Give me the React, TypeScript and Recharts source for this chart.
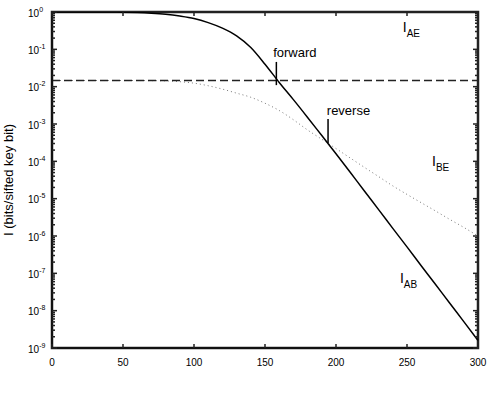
import React from "react";
import { LineChart, Line, XAxis, YAxis, ReferenceLine, ReferenceDot, ReferenceArea } from "recharts";

// fibre length (x) and mutual informations
const distance = [
  0, 10, 20, 30, 40, 50, 60, 70, 80, 90, 100, 110, 120, 130, 140, 150, 160, 170, 180, 190, 200,
  210, 220, 230, 240, 250, 260, 270, 280, 290, 300,
];
const infoAB = [
  1.0, 1.0, 1.0, 0.998, 0.995, 0.99, 0.97, 0.93, 0.87, 0.78, 0.67, 0.52, 0.37, 0.23, 0.112, 0.04,
  0.013, 4.5e-3, 1.5e-3, 4.9e-4, 1.6e-4, 5.1e-5, 1.6e-5, 5.1e-6, 1.6e-6, 5.1e-7, 1.6e-7, 5.1e-8,
  1.6e-8, 5.1e-9, 1.6e-9,
];
const infoBE = [
  0.0146, 0.0146, 0.0146, 0.0146, 0.0146, 0.0146, 0.0146, 0.0145, 0.0143, 0.0136, 0.0124, 0.0106,
  8.6e-3, 6.7e-3, 5.2e-3, 3.6e-3, 2.3e-3, 1.3e-3, 6.9e-4, 3.9e-4, 2.2e-4, 1.23e-4, 6.9e-5, 3.9e-5,
  2.2e-5, 1.3e-5, 7.8e-6, 4.7e-6, 2.8e-6, 1.7e-6, 1.0e-6,
];
const infoAE = [
  0.0146, 0.0146, 0.0146, 0.0146, 0.0146, 0.0146, 0.0146, 0.0146, 0.0146, 0.0146, 0.0146, 0.0146,
  0.0146, 0.0146, 0.0146, 0.0146, 0.0146, 0.0146, 0.0146, 0.0146, 0.0146, 0.0146, 0.0146, 0.0146,
  0.0146, 0.0146, 0.0146, 0.0146, 0.0146, 0.0146, 0.0146,
];

const xTicks = [0, 50, 100, 150, 200, 250, 300];
const decadeExponents = [-9, -8, -7, -6, -5, -4, -3, -2, -1, 0];
const minorSteps = [2, 3, 4, 5, 6, 7, 8, 9];

const data = distance.map((x, i) => ({ x, ab: infoAB[i], be: infoBE[i], ae: infoAE[i] }));

const majorTicks = decadeExponents.map((e) => Math.pow(10, e));
const allYTicks = [
  ...majorTicks,
  ...decadeExponents.slice(0, -1).flatMap((e) => minorSteps.map((m) => m * Math.pow(10, e))),
].sort((a, b) => a - b);

// layout
const WIDTH = 491;
const HEIGHT = 395;
const MARGIN = { top: 12, right: 13, bottom: 0, left: 0 };
const PLOT_TOP = MARGIN.top;
const PLOT_RIGHT = WIDTH - MARGIN.right;

const FONT = "'Liberation Sans', Arial, Helvetica, sans-serif";
const FRAME = "#222";

const isMajor = (v: number) => {
  const e = Math.log10(v);
  return Math.abs(e - Math.round(e)) < 1e-6;
};

// left ticks also draw the matching inward tick on the right side of the box
const LeftTick = (props: any) => {
  const { x, y, payload } = props;
  const major = isMajor(payload.value);
  const len = major ? 5 : 3;
  return (
    <g>
      <path d={`M${x},${y}h${len}`} stroke={FRAME} strokeWidth={1.5} fill="none" />
      <path d={`M${PLOT_RIGHT},${y}h${-len}`} stroke={FRAME} strokeWidth={1.5} fill="none" />
      {major && (
        <text x={x - 24} y={y + 4.5} fontSize={10} fill="#000" fontFamily={FONT}>
          10
          <tspan dy={-5} fontSize={7}>
            {Math.round(Math.log10(payload.value))}
          </tspan>
        </text>
      )}
    </g>
  );
};

// bottom ticks also draw the matching inward tick on the top of the box
const BottomTick = (props: any) => {
  const { x, y, payload } = props;
  return (
    <g>
      <path d={`M${x},${y}v-4`} stroke={FRAME} strokeWidth={1.5} fill="none" />
      <path d={`M${x},${PLOT_TOP}v4`} stroke={FRAME} strokeWidth={1.5} fill="none" />
      <text x={x} y={y + 18} fontSize={10} textAnchor="middle" fill="#000" fontFamily={FONT}>
        {payload.value}
      </text>
    </g>
  );
};

const YLabel = (props: any) => {
  const { viewBox } = props;
  const cx = viewBox.x + 12.5;
  const cy = viewBox.y + viewBox.height / 2;
  return (
    <text
      x={cx}
      y={cy}
      transform={`rotate(-90, ${cx}, ${cy})`}
      textAnchor="middle"
      fontSize={13}
      fill="#000"
      fontFamily={FONT}
    >
      I (bits/sifted key bit)
    </text>
  );
};

const word = (text: string) => (p: any) => (
  <text x={p.cx} y={p.cy} textAnchor="middle" fontSize={13} fill="#000" fontFamily={FONT}>
    {text}
  </text>
);

const curveName = (sub: string) => (p: any) => (
  <text x={p.cx} y={p.cy} fontSize={14} fill="#000" fontFamily={FONT}>
    I
    <tspan dy={5} fontSize={10}>
      {sub}
    </tspan>
  </text>
);

export default function App() {
  return (
    <div style={{ position: "absolute", left: 0, top: 0, background: "#fff" }}>
      <LineChart width={WIDTH} height={HEIGHT} data={data} margin={MARGIN}>
        <XAxis
          dataKey="x"
          type="number"
          domain={[0, 300]}
          ticks={xTicks}
          interval={0}
          height={47}
          tickSize={0}
          tickMargin={0}
          tickLine={false}
          axisLine={{ stroke: "#000" }}
          tick={BottomTick}
        />
        <YAxis
          type="number"
          scale="log"
          domain={[1e-9, 1]}
          allowDataOverflow
          ticks={allYTicks}
          interval={0}
          width={52}
          tickSize={0}
          tickMargin={0}
          tickLine={false}
          axisLine={{ stroke: "#000" }}
          tick={LeftTick}
          label={<YLabel />}
        />
        {/* box around the plot; half of the stroke is clipped away */}
        <ReferenceArea
          x1={0}
          x2={300}
          y1={1e-9}
          y2={1}
          fill="none"
          fillOpacity={0}
          stroke={FRAME}
          strokeWidth={2.5}
          ifOverflow="visible"
        />
        <Line
          dataKey="be"
          type="monotone"
          stroke="#777"
          strokeWidth={1}
          strokeDasharray="1 3"
          dot={false}
          isAnimationActive={false}
        />
        <Line
          dataKey="ae"
          type="linear"
          stroke="#222"
          strokeWidth={1.5}
          strokeDasharray="8 4"
          dot={false}
          isAnimationActive={false}
        />
        <Line
          dataKey="ab"
          type="monotone"
          stroke="#000"
          strokeWidth={1.5}
          dot={false}
          isAnimationActive={false}
        />
        <ReferenceLine segment={[{ x: 158, y: 0.046 }, { x: 158, y: 0.011 }]} stroke="#000" strokeWidth={1.5} />
        <ReferenceLine segment={[{ x: 194.4, y: 1.36e-3 }, { x: 194.4, y: 3.1e-4 }]} stroke="#000" strokeWidth={1.5} />
        <ReferenceDot x={171} y={0.062} r={0} shape={word("forward")} />
        <ReferenceDot x={208.8} y={1.74e-3} r={0} shape={word("reverse")} />
        <ReferenceDot x={247} y={0.29} r={0} shape={curveName("AE")} />
        <ReferenceDot x={267.6} y={7.5e-5} r={0} shape={curveName("BE")} />
        <ReferenceDot x={245} y={5.5e-8} r={0} shape={curveName("AB")} />
      </LineChart>
    </div>
  );
}
